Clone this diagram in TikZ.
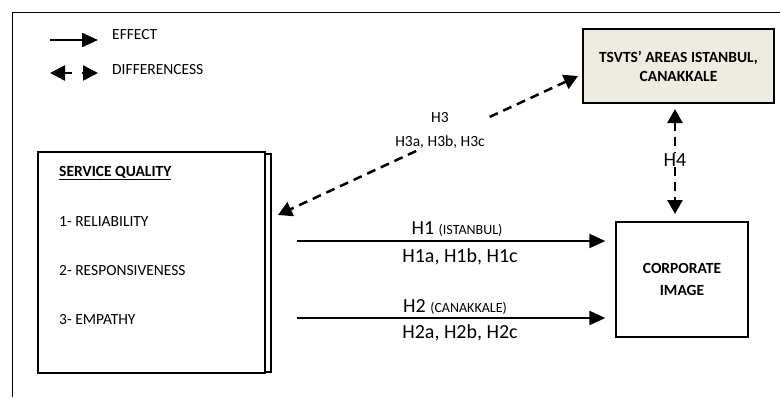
\documentclass[tikz,border=0pt]{standalone}
\usepackage{fontspec}
\setmainfont{Carlito}
\definecolor{boxbeige}{RGB}{238,236,225}
\usetikzlibrary{arrows.meta,positioning}

\begin{document}
\begin{tikzpicture}[x=1pt, y=-1pt,
    txt/.style={inner sep=0pt, font=\fontsize{15.5}{18}\selectfont},
    hlab/.style={inner sep=1pt, font=\fontsize{20}{22}\selectfont},
    frame/.style={draw, line width=1.3pt},
    effarrow/.style={line width=2.2pt, -{Triangle[length=16pt,width=14pt]}},
    diffarrow/.style={line width=2.5pt, dash pattern=on 9pt off 6pt,
                      {Triangle[length=14pt,width=15pt]}-{Triangle[length=14pt,width=15pt]}}
  ]
    \useasboundingbox (0,0) rectangle (780,397);

    % Outer frame
    \draw[line width=0.9pt] (12,397) -- (12,12) -- (780,12);

    % Legend
    \coordinate (effA) at (50,40);
    \coordinate (effB) at (98,40);
    \coordinate (difA) at (50,73);
    \coordinate (difB) at (98,73);
    \draw[effarrow] (effA) -- (effB);
    \draw[line width=2.5pt, dash pattern=on 8pt off 10pt,
          {Triangle[length=15pt,width=15pt]}-{Triangle[length=15pt,width=15pt]}] (difA) -- (difB);
    \node[txt, anchor=west] (leff) at (112,35) {EFFECT};
    \node[txt, anchor=west] (ldif) at (112,70) {DIFFERENCESS};

    % Boxes
    \node[frame, fill=boxbeige, minimum width=191pt, minimum height=74pt, align=center,
          font=\fontsize{15.5}{19}\selectfont\bfseries] (tsvts) at (678.5,66)
          {TSVTS’ AREAS ISTANBUL,\\CANAKKALE};
    \node[frame, minimum width=132pt, minimum height=115pt, align=center,
          font=\fontsize{15.5}{22}\selectfont\bfseries] (corp) at (682,279.5)
          {CORPORATE\\IMAGE};
    \draw[frame, fill=white] (44,154) rectangle (271,372);
    \node[frame, fill=white, minimum width=227pt, minimum height=221pt] (sq) at (151.5,262.5) {};

    % Service quality items
    \node[txt, anchor=west, font=\fontsize{15.5}{18}\selectfont\bfseries] (sqhead) at (59,173)
          {\underline{SERVICE QUALITY}};
    \node[txt, anchor=west] (rel) at (59,222) {1- RELIABILITY};
    \node[txt, anchor=west] (resp) at (59,271) {2- RESPONSIVENESS};
    \node[txt, anchor=west] (emp) at (59,320) {3- EMPATHY};

    % H1 and H2
    \coordinate (h1s) at (297,241);
    \coordinate (h2s) at (297,318);
    \draw[effarrow, shorten >=10pt] (h1s) -- (corp.west |- h1s);
    \draw[effarrow, shorten >=10pt] (h2s) -- (corp.west |- h2s);
    \node[hlab] (h1t) at (457,229) {H1 {\fontsize{14}{16}\selectfont(ISTANBUL)}};
    \node[hlab] (h1b) at (460,257) {H1a, H1b, H1c};
    \node[hlab] (h2t) at (455,307) {H2 {\fontsize{14}{16}\selectfont(CANAKKALE)}};
    \node[hlab] (h2b) at (460,333) {H2a, H2b, H2c};

    % H3
    \coordinate (h3a) at (578,76);
    \coordinate (h3b) at (278,215);
    \draw[diffarrow] (h3a) -- (h3b);
    \node[txt, fill=white, inner sep=2pt, align=center, font=\fontsize{15.5}{24}\selectfont]
          (h3lab) at (440,130) {H3\\H3a, H3b, H3c};

    % H4
    \coordinate (h4a) at (675,103);
    \coordinate (h4b) at (675,222);
    \draw[diffarrow, shorten <=6pt, shorten >=8pt] (h4a) -- (h4b);
    \node[hlab, fill=white] (h4lab) at (675,160) {H4};
  \end{tikzpicture}
\end{document}
